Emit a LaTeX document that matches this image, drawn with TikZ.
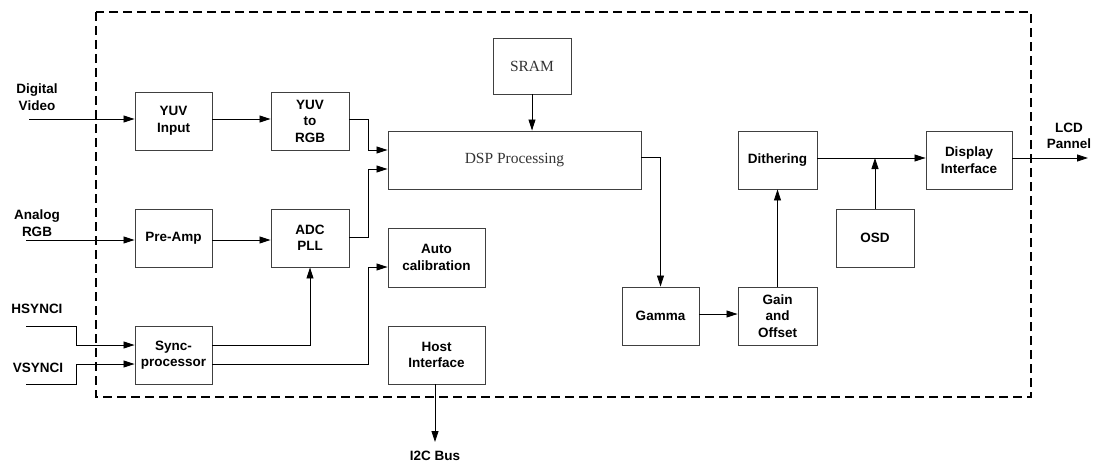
\documentclass[tikz,border=0pt]{standalone}
\usepackage{fontspec}
\setmainfont{Liberation Sans}
\newfontfamily\serifx{Liberation Serif}
\usetikzlibrary{arrows.meta,calc}
\begin{document}
\begin{tikzpicture}[x=1pt,y=-1pt,
  blk/.style={draw=black!75, line width=0.9pt, inner sep=0pt, align=center,
    font=\bfseries\fontsize{13.5}{16.5}\selectfont, minimum height=58pt},
  sblk/.style={draw=black!75, line width=0.9pt, inner sep=0pt, align=center,
    font=\serifx\fontsize{15.5}{18}\selectfont, text=black!80},
  lbl/.style={inner sep=0pt, align=center, font=\bfseries\fontsize{13.5}{16.5}\selectfont},
  arr/.style={-{Triangle[length=11pt,width=7pt]}, line width=0.8pt},
  frame/.style={line width=1.3pt, dash pattern=on 9pt off 5pt}]
\useasboundingbox (0,0) rectangle (1097,468);
% frame
\draw[frame] (96,12) rectangle (1031,397);
% blocks
\node[blk, minimum width=77pt] (yuvin) at (173.5,121) {YUV\\Input};
\node[blk, minimum width=78pt] (yuvrgb) at (310,121) {YUV\\to\\RGB};
\node[blk, minimum width=77pt] (preamp) at (173.5,238) {Pre-Amp};
\node[blk, minimum width=78pt] (adc) at (310,238) {ADC\\PLL};
\node[blk, minimum width=77pt] (sync) at (173.5,355) {Sync-\\processor};
\node[sblk, minimum width=253pt, minimum height=58pt] (dsp) at (514.5,160) {DSP Processing};
\node[sblk, minimum width=78pt, minimum height=56pt] (sram) at (532,66) {SRAM};
\node[blk, minimum width=97pt, minimum height=59pt] (auto) at (436.5,257.5) {Auto\\calibration};
\node[blk, minimum width=97pt] (host) at (436.5,355) {Host\\Interface};
\node[blk, minimum width=77pt] (gamma) at (660.5,316) {Gamma};
\node[blk, minimum width=79pt] (gain) at (777.5,316) {Gain\\and\\Offset};
\node[blk, minimum width=79pt] (dith) at (777.5,160) {Dithering};
\node[blk, minimum width=78pt] (osd) at (875,238) {OSD};
\node[blk, minimum width=86pt] (disp) at (969,160) {Display\\Interface};
% labels
\node[lbl] (ldv) at (37,97) {Digital\\Video};
\node[lbl] (lar) at (37,223) {Analog\\RGB};
\node[lbl] (lhs) at (37,309) {HSYNCI};
\node[lbl] (lvs) at (38,368) {VSYNCI};
\node[lbl] (li2c) at (435,456) {I2C Bus};
\node[lbl] (llcd) at (1069,136) {LCD\\Pannel};
% coordinates
\coordinate (dv) at (29,119);
\coordinate (j1) at (368,150);
\coordinate (aa) at (0,237);
\coordinate (j2) at (368,169);
\coordinate (ar) at (26,240);
\coordinate (hs) at (26,326);
\coordinate (hs2) at (76,345);
\coordinate (vs) at (26,384);
\coordinate (vs2) at (76,364);
\coordinate (j3) at (368,267);
\coordinate (i2ct) at (435,442);
\coordinate (d1) at (0,157);
\coordinate (g1) at (0,314);
\coordinate (d2) at (0,158);
\coordinate (lcdend) at (1088,158);
% connectors
\draw[arr] (dv) -- (dv -| yuvin.west);
\draw[arr] (yuvin.east |- dv) -- (yuvrgb.west |- dv);
\draw[arr] (yuvrgb.east |- dv) -| (j1) -- (j1 -| dsp.west);
\draw[arr] (adc.east |- aa) -| (j2) -- (j2 -| dsp.west);
\draw[arr] (ar) -- (ar -| preamp.west);
\draw[arr] (preamp.east |- ar) -- (adc.west |- ar);
\draw[arr] (hs) -| (hs2) -- (hs2 -| sync.west);
\draw[arr] (vs) -| (vs2) -- (vs2 -| sync.west);
\draw[arr] (sync.east |- hs2) -| (adc.south);
\draw[arr] (sync.east |- vs2) -| (j3) -- (j3 -| auto.west);
\draw[arr] (host.south -| i2ct) -- (i2ct);
\draw[arr] (sram.south) -- (sram.south |- dsp.north);
\draw[arr] (dsp.east |- d1) -| (gamma.north);
\draw[arr] (gamma.east |- g1) -- (gain.west |- g1);
\draw[arr] (gain.north) -- (dith.south);
\draw[arr] (dith.east |- d2) -- (disp.west |- d2);
\draw[arr] (osd.north) -- (osd.north |- d2);
\draw[arr] (disp.east |- d2) -- (lcdend);
\end{tikzpicture}
\end{document}
